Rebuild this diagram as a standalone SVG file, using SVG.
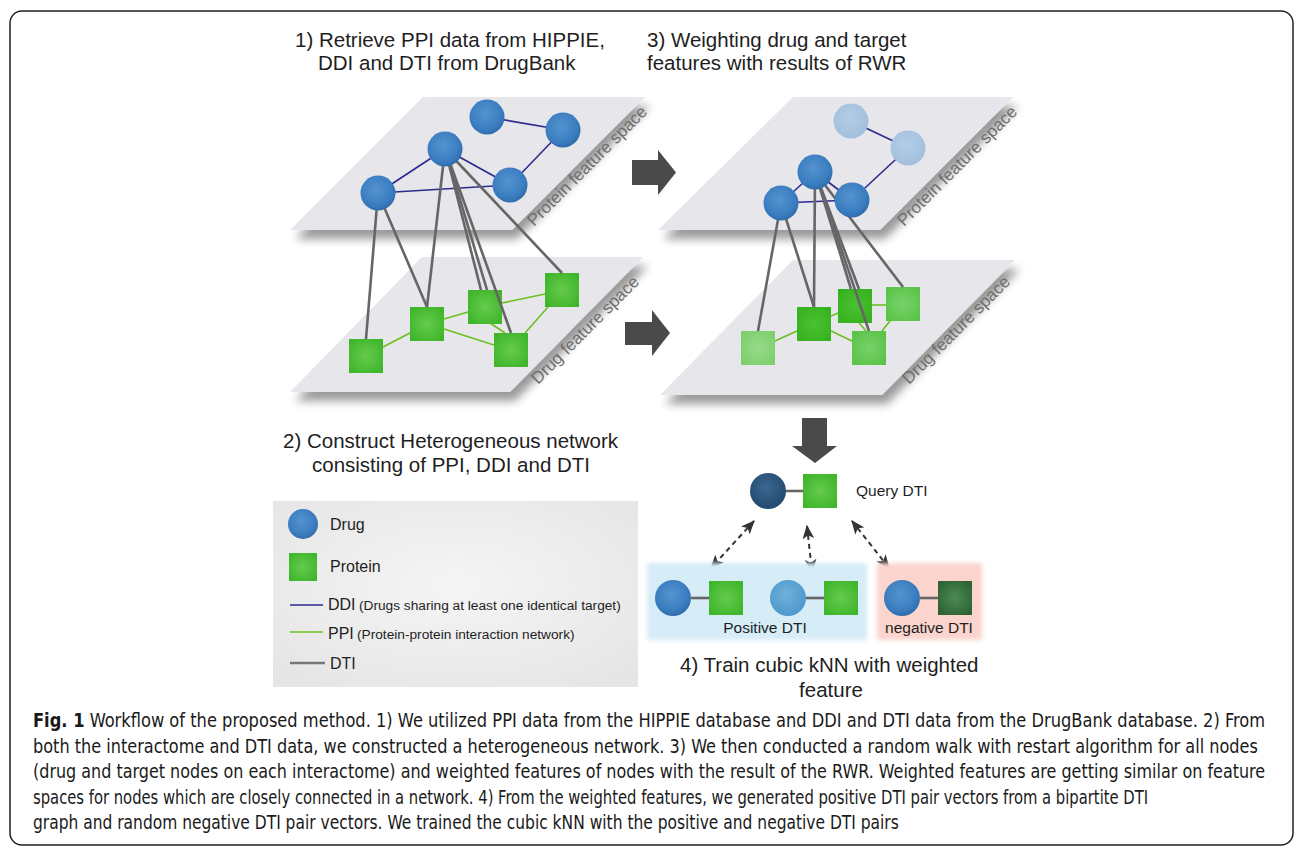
<svg xmlns="http://www.w3.org/2000/svg" width="1296" height="849" viewBox="0 0 1296 849">
<defs>
<style>
.t{font-family:"Liberation Sans",Arial,sans-serif;fill:#1e1e1e}
.title{font-size:20.5px}
.plab{font-family:"Liberation Sans",Arial,sans-serif;font-size:17px;fill:#6e6e6e}
.leg{font-size:16px}
.cap{font-family:"Liberation Sans Narrow","DejaVu Sans Condensed","Liberation Sans",sans-serif;font-size:19px;fill:#1a1a1a}
.ddi{stroke:#2e2a8e;stroke-width:1.6;fill:none}
.ppi{stroke:#6cc01e;stroke-width:1.6;fill:none}
.dti{stroke:#666;stroke-width:2.6;fill:none}
.dash{stroke:#333;stroke-width:2;stroke-dasharray:5 4;fill:none;marker-start:url(#ah);marker-end:url(#ah)}
.plane{fill:#e6e6eb}
.blk{fill:#4a4a4a}
</style>
<radialGradient id="gBlue" cx="45%" cy="40%" r="60%"><stop offset="0" stop-color="#5593cf"/><stop offset="0.75" stop-color="#3a7dc0"/><stop offset="1" stop-color="#2f6dab"/></radialGradient>
<radialGradient id="gFade" cx="45%" cy="40%" r="60%"><stop offset="0" stop-color="#b3cde7"/><stop offset="1" stop-color="#a2bfdd"/></radialGradient>
<radialGradient id="gDark" cx="45%" cy="40%" r="60%"><stop offset="0" stop-color="#3b6791"/><stop offset="1" stop-color="#234a70"/></radialGradient>
<radialGradient id="gLight" cx="45%" cy="40%" r="60%"><stop offset="0" stop-color="#6fb1db"/><stop offset="1" stop-color="#4e98cb"/></radialGradient>
<radialGradient id="gGreen" cx="50%" cy="50%" r="60%"><stop offset="0" stop-color="#66ca4e"/><stop offset="1" stop-color="#3fb62a"/></radialGradient>
<radialGradient id="gGreenD" cx="50%" cy="50%" r="60%"><stop offset="0" stop-color="#4cc132"/><stop offset="1" stop-color="#36b21f"/></radialGradient>
<radialGradient id="gGreenF" cx="50%" cy="50%" r="60%"><stop offset="0" stop-color="#98db8a"/><stop offset="1" stop-color="#7ccf6c"/></radialGradient>
<radialGradient id="gGreenM" cx="50%" cy="50%" r="60%"><stop offset="0" stop-color="#7ad16a"/><stop offset="1" stop-color="#5ac449"/></radialGradient>
<radialGradient id="gNeg" cx="50%" cy="50%" r="60%"><stop offset="0" stop-color="#4d8a55"/><stop offset="1" stop-color="#2d6334"/></radialGradient>
<radialGradient id="gLeg" cx="50%" cy="45%" r="70%"><stop offset="0" stop-color="#f5f5f5"/><stop offset="1" stop-color="#e5e5e5"/></radialGradient>
<filter id="ps" x="-10%" y="-10%" width="130%" height="145%"><feGaussianBlur in="SourceAlpha" stdDeviation="5"/><feOffset dx="5" dy="9"/><feComponentTransfer><feFuncA type="linear" slope="0.4"/></feComponentTransfer><feMerge><feMergeNode/><feMergeNode in="SourceGraphic"/></feMerge></filter>
<filter id="soft" x="-5%" y="-5%" width="110%" height="110%"><feGaussianBlur stdDeviation="2"/></filter>
<marker id="ah" viewBox="0 0 12 10" refX="11" refY="5" markerWidth="7" markerHeight="6" orient="auto-start-reverse" markerUnits="strokeWidth"><path d="M0,0 L12,5 L0,10 L3,5 Z" fill="#333"/></marker>
</defs>
<rect x="0" y="0" width="1296" height="849" fill="#fff"/>
<rect x="10" y="11" width="1283" height="834" rx="12" fill="none" stroke="#222" stroke-width="1.5"/>

<g id="titles">
<text class="t title" x="295" y="47">1) Retrieve PPI data from HIPPIE,</text>
<text class="t title" x="318" y="70">DDI and DTI from DrugBank</text>
<text class="t title" x="647" y="47">3) Weighting drug and target</text>
<text class="t title" x="647" y="70">features with results of RWR</text>
<text class="t title" x="283" y="448">2) Construct Heterogeneous network</text>
<text class="t title" x="312" y="472">consisting of PPI, DDI and DTI</text>
<text class="t title" x="680" y="672">4) Train cubic kNN with weighted</text>
<text class="t title" x="831" y="697" text-anchor="middle">feature</text>
</g>

<g id="planes">
<polygon class="plane" filter="url(#ps)" points="423,97 645,97 512,230 290,230"/>
<polygon class="plane" filter="url(#ps)" points="422,257 643,257 510,392 290,392"/>
<polygon class="plane" filter="url(#ps)" points="793,97 1013,97 880,230 658,230"/>
<polygon class="plane" filter="url(#ps)" points="793,260 1015,260 882,395 660,395"/>
<text class="plab" transform="translate(534,227) rotate(-45)">Protein feature space</text>
<text class="plab" transform="translate(538,385) rotate(-45)">Drug feature space</text>
<text class="plab" transform="translate(904,227) rotate(-45)">Protein feature space</text>
<text class="plab" transform="translate(909,385) rotate(-45)">Drug feature space</text>
</g>

<g id="arrows">
<polygon class="blk" points="632,160 658,160 658,150 676,172.5 658,195 658,185 632,185"/>
<polygon class="blk" points="625,322 652,322 652,310 670,333 652,356 652,345 625,345"/>
<polygon class="blk" points="802,418 827,418 827,446 837,446 815,463 792,446 802,446"/>
</g>

<g id="ppi-lines">
<line class="ppi" x1="383" y1="347" x2="410" y2="333"/>
<line class="ppi" x1="444" y1="319" x2="468" y2="312"/>
<line class="ppi" x1="444" y1="329" x2="494" y2="345"/>
<line class="ppi" x1="502" y1="303" x2="545" y2="294"/>
<line class="ppi" x1="548" y1="307" x2="525" y2="333"/>
<line class="ppi" x1="490" y1="323" x2="505" y2="333"/>
<line class="ppi" x1="775" y1="341" x2="797" y2="331"/>
<line class="ppi" x1="831" y1="316" x2="838" y2="313"/>
<line class="ppi" x1="831" y1="331" x2="852" y2="341"/>
<line class="ppi" x1="872" y1="305" x2="886" y2="305"/>
<line class="ppi" x1="890" y1="321" x2="882" y2="331"/>
<line class="ppi" x1="856" y1="319" x2="866" y2="331"/>
</g>

<g id="node-L-p1"><rect x="349" y="339" width="34" height="34" fill="url(#gGreen)"/></g>
<g id="node-L-p2"><rect x="410" y="307" width="34" height="34" fill="url(#gGreen)"/></g>
<g id="node-L-p3"><rect x="468" y="290" width="34" height="34" fill="url(#gGreen)"/></g>
<g id="node-L-p4"><rect x="545" y="273" width="34" height="34" fill="url(#gGreen)"/></g>
<g id="node-L-p5"><rect x="494" y="333" width="34" height="34" fill="url(#gGreen)"/></g>
<g id="node-R-p1"><rect x="741" y="331" width="34" height="34" fill="url(#gGreenF)"/></g>
<g id="node-R-p2"><rect x="797" y="307" width="34" height="34" fill="url(#gGreenD)"/></g>
<g id="node-R-p3"><rect x="838" y="289" width="34" height="34" fill="url(#gGreenD)"/></g>
<g id="node-R-p4"><rect x="886" y="287" width="34" height="34" fill="url(#gGreenM)"/></g>
<g id="node-R-p5"><rect x="852" y="331" width="34" height="34" fill="url(#gGreenM)"/></g>

<g id="connectors">
<line class="ddi" x1="487" y1="117" x2="563" y2="130"/>
<line class="ddi" x1="563" y1="130" x2="510" y2="185"/>
<line class="ddi" x1="445" y1="149" x2="510" y2="185"/>
<line class="ddi" x1="445" y1="149" x2="378" y2="193"/>
<line class="ddi" x1="378" y1="193" x2="510" y2="185"/>
<line class="ddi" x1="851" y1="121" x2="908" y2="148"/>
<line class="ddi" x1="908" y1="148" x2="852" y2="200"/>
<line class="ddi" x1="815" y1="172" x2="781" y2="203"/>
<line class="ddi" x1="815" y1="172" x2="852" y2="200"/>
<line class="ddi" x1="781" y1="203" x2="852" y2="200"/>
<line class="dti" x1="378" y1="193" x2="366" y2="339"/>
<line class="dti" x1="378" y1="193" x2="427" y2="307"/>
<line class="dti" x1="445" y1="149" x2="427" y2="307"/>
<line class="dti" x1="445" y1="149" x2="481" y2="290"/>
<line class="dti" x1="445" y1="149" x2="487" y2="290"/>
<line class="dti" x1="445" y1="149" x2="511" y2="333"/>
<line class="dti" x1="445" y1="149" x2="562" y2="273"/>
<line class="dti" x1="781" y1="203" x2="758" y2="331"/>
<line class="dti" x1="781" y1="203" x2="814" y2="307"/>
<line class="dti" x1="815" y1="172" x2="814" y2="307"/>
<line class="dti" x1="815" y1="172" x2="851" y2="289"/>
<line class="dti" x1="815" y1="172" x2="859" y2="289"/>
<line class="dti" x1="815" y1="172" x2="869" y2="331"/>
<line class="dti" x1="815" y1="172" x2="903" y2="287"/>
<line class="dash" x1="754" y1="521" x2="711" y2="568"/>
<line class="dash" x1="807" y1="526" x2="812" y2="572"/>
<line class="dash" x1="852" y1="521" x2="889" y2="568"/>
</g>

<g id="node-L-d1"><circle cx="487" cy="117" r="17.5" fill="url(#gBlue)"/></g>
<g id="node-L-d2"><circle cx="563" cy="130" r="17.5" fill="url(#gBlue)"/></g>
<g id="node-L-d3"><circle cx="445" cy="149" r="17.5" fill="url(#gBlue)"/></g>
<g id="node-L-d4"><circle cx="510" cy="185" r="17.5" fill="url(#gBlue)"/></g>
<g id="node-L-d5"><circle cx="378" cy="193" r="17.5" fill="url(#gBlue)"/></g>
<g id="node-R-d1"><circle cx="851" cy="121" r="17.5" fill="url(#gFade)"/></g>
<g id="node-R-d2"><circle cx="908" cy="148" r="17.5" fill="url(#gFade)"/></g>
<g id="node-R-d3"><circle cx="815" cy="172" r="17.5" fill="url(#gBlue)"/></g>
<g id="node-R-d4"><circle cx="781" cy="203" r="17.5" fill="url(#gBlue)"/></g>
<g id="node-R-d5"><circle cx="852" cy="200" r="17.5" fill="url(#gBlue)"/></g>

<g id="query">
<line x1="786" y1="491" x2="803" y2="491" stroke="#666" stroke-width="2.6"/>
<circle cx="768" cy="491" r="18" fill="url(#gDark)"/>
<rect x="803" y="474" width="34" height="34" fill="url(#gGreen)"/>
<text class="t" x="856" y="496" font-size="15.5">Query DTI</text>
</g>

<g id="positive">
<rect x="647" y="563" width="220" height="77" fill="#d6ecf7" filter="url(#soft)"/>
<line x1="691" y1="598" x2="709" y2="598" stroke="#666" stroke-width="2.6"/>
<circle cx="673" cy="598" r="18" fill="url(#gBlue)"/>
<rect x="709" y="581" width="34" height="34" fill="url(#gGreen)"/>
<line x1="806" y1="598" x2="824" y2="598" stroke="#666" stroke-width="2.6"/>
<circle cx="788" cy="598" r="18" fill="url(#gLight)"/>
<rect x="824" y="581" width="34" height="34" fill="url(#gGreen)"/>
<text class="t" x="765" y="633" font-size="15.5" text-anchor="middle">Positive DTI</text>
</g>

<g id="negative">
<rect x="877" y="563" width="105" height="77" fill="#fbd4cd" filter="url(#soft)"/>
<line x1="920" y1="598" x2="938" y2="598" stroke="#666" stroke-width="2.6"/>
<circle cx="902" cy="598" r="18" fill="url(#gBlue)"/>
<rect x="938" y="581" width="34" height="34" fill="url(#gNeg)"/>
<text class="t" x="929" y="633" font-size="15.5" text-anchor="middle">negative DTI</text>
</g>

<g id="legend">
<rect x="273" y="501" width="365" height="186" fill="url(#gLeg)"/>
<circle cx="303" cy="524" r="15" fill="url(#gBlue)"/>
<text class="t leg" x="330" y="530">Drug</text>
<rect x="289" y="553" width="28" height="28" fill="url(#gGreen)"/>
<text class="t leg" x="330" y="572">Protein</text>
<line x1="290" y1="605" x2="323" y2="605" class="ddi"/>
<text class="t" x="328" y="610"><tspan font-size="16">DDI</tspan><tspan x="359" font-size="13.7">(Drugs sharing at least one identical target)</tspan></text>
<line x1="290" y1="632" x2="323" y2="632" class="ppi"/>
<text class="t" x="328" y="639"><tspan font-size="16">PPI</tspan><tspan x="357" font-size="13.7">(Protein-protein interaction network)</tspan></text>
<line x1="290" y1="663" x2="325" y2="663" stroke="#777" stroke-width="2.6"/>
<text class="t leg" x="330" y="669">DTI</text>
</g>

<g id="caption">
<text class="cap" transform="translate(33,727) scale(0.9,1)" textLength="1369" lengthAdjust="spacingAndGlyphs"><tspan font-weight="bold">Fig. 1</tspan> Workflow of the proposed method. 1) We utilized PPI data from the HIPPIE database and DDI and DTI data from the DrugBank database. 2) From</text>
<text class="cap" transform="translate(33,753) scale(0.9,1)" textLength="1361" lengthAdjust="spacingAndGlyphs">both the interactome and DTI data, we constructed a heterogeneous network. 3) We then conducted a random walk with restart algorithm for all nodes</text>
<text class="cap" transform="translate(33,778) scale(0.9,1)" textLength="1369" lengthAdjust="spacingAndGlyphs">(drug and target nodes on each interactome) and weighted features of nodes with the result of the RWR. Weighted features are getting similar on feature</text>
<text class="cap" transform="translate(33,804) scale(0.9,1)" textLength="1239" lengthAdjust="spacingAndGlyphs">spaces for nodes which are closely connected in a network. 4) From the weighted features, we generated positive DTI pair vectors from a bipartite DTI</text>
<text class="cap" transform="translate(33,829) scale(0.9,1)" textLength="962" lengthAdjust="spacingAndGlyphs">graph and random negative DTI pair vectors. We trained the cubic kNN with the positive and negative DTI pairs</text>
</g>
</svg>
